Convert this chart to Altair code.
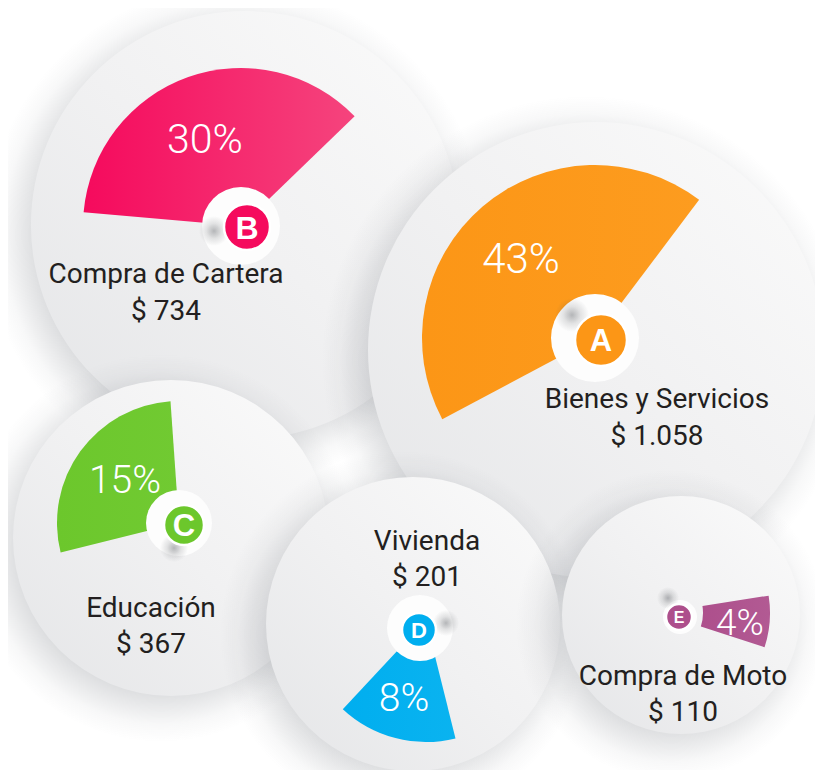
import math
import altair as alt
import pandas as pd

# ---------------- data ----------------
keys = ["A", "B", "C", "D", "E"]
categories = ["Bienes y Servicios", "Compra de Cartera", "Educación", "Vivienda", "Compra de Moto"]
amounts = ["$ 1.058", "$ 734", "$ 367", "$ 201", "$ 110"]
percents = [43, 30, 15, 8, 4]

# ---------------- styles ----------------
colors = ["#fc9616", "#f50a5d", "#6cc72c", "#00aeef", "#ad4f8c"]
colors_hi = ["#fd9c1f", "#f5447d", "#71ca32", "#0ab3f0", "#b25a93"]
LABEL_FONT = "Roboto"
BOLD = "Liberation Sans, Arial, DejaVu Sans, sans-serif"
TEXT_COLOR = "#231f20"

# ---------------- layout (page pixels) ----------------
bubble_order = ["B", "A", "C", "D", "E"]
bubble = {"B": (245, 225, 214), "A": (596, 350, 228), "C": (171, 538, 158),
          "D": (413, 624, 147), "E": (681, 615, 119)}
# apex x, apex y, outer radius, inner radius, start deg, end deg (clockwise from 12 o'clock)
wedge = {"A": (595, 338, 173, 0, 242, 397),
         "B": (241, 226, 158, 0, 275, 406),
         "C": (179, 523, 122, 0, 256, 356),
         "D": (426, 620, 122, 0, 166, 223),
         "E": (659, 613, 111, 44, 81, 108)}
hub = {"A": (595, 338, 44), "B": (241, 226, 39), "C": (179, 523, 33),
       "D": (420, 628, 33), "E": (680, 617, 17)}
badge = {"A": (601, 340, 26, 31), "B": (247, 227, 23, 32), "C": (184, 525, 20, 31),
         "D": (419, 630, 17, 22), "E": (679, 617, 13, 16)}
badge_shadow = {"A": (572, 315, 17), "B": (214, 231, 15), "C": (174, 548, 14),
                "D": (446, 623, 13), "E": (668, 598, 11)}
pct_pos = {"A": (521, 273, 42), "B": (205, 153, 41), "C": (125, 493, 39),
           "D": (404, 711, 39), "E": (740, 635, 37)}
label_pos = {"A": (657, 408, 445), "B": (166, 283, 320), "C": (151, 617, 653),
             "D": (427, 550, 586), "E": (683, 685, 721)}
LABEL_SIZE = 28

X = alt.Scale(domain=[8, 815], zero=False, nice=False)
Y = alt.Scale(domain=[8, 770], zero=False, nice=False, reverse=True)
FULL = 6.2832


def pos(yf="y"):
    return dict(x=alt.X("x:Q", scale=X, axis=None), y=alt.Y(f"{yf}:Q", scale=Y, axis=None))


def rad():
    return alt.Radius("r:Q", scale=None, stack=False)


def full_theta():
    return dict(theta=alt.Theta("t0:Q", scale=None, stack=False), theta2=alt.Theta2("t1"))


bubble_grad = alt.LinearGradient(
    gradient="linear",
    stops=[alt.GradientStop(color="#e4e5e7", offset=0),
           alt.GradientStop(color="#f1f1f2", offset=0.5),
           alt.GradientStop(color="#fbfbfb", offset=1)],
    x1=0, y1=1, x2=1, y2=0)

layers = []

# bubbles with soft shadows, interleaved in z-order
for k in bubble_order:
    cx, cy, r = bubble[k]
    R = r + 36
    sh = pd.DataFrame({"x": [cx - 10], "y": [cy + 10], "r": [R], "t0": [0.0], "t1": [FULL]})
    g = alt.RadialGradient(
        gradient="radial",
        stops=[alt.GradientStop(color="rgba(70,76,86,0.24)", offset=0),
               alt.GradientStop(color="rgba(70,76,86,0.24)", offset=(r - 26) / R),
               alt.GradientStop(color="rgba(70,76,86,0.12)", offset=r / R),
               alt.GradientStop(color="rgba(70,76,86,0.04)", offset=(r + 18) / R),
               alt.GradientStop(color="rgba(70,76,86,0)", offset=1)],
        x1=0.5, y1=0.5, r1=0, x2=0.5, y2=0.5, r2=0.5)
    layers.append(alt.Chart(sh).mark_arc(fill=g).encode(**pos(), radius=rad(), **full_theta()))
    bd = pd.DataFrame({"x": [cx], "y": [cy], "r": [r], "t0": [0.0], "t1": [FULL]})
    layers.append(alt.Chart(bd).mark_arc(fill=bubble_grad)
                  .encode(**pos(), radius=rad(), **full_theta()))

# wedges
for i, k in enumerate(keys):
    ax, ay, ro, ri, a0, a1 = wedge[k]
    wd = pd.DataFrame({"x": [ax], "y": [ay], "r": [ro], "r0": [ri],
                       "t0": [math.radians(a0)], "t1": [math.radians(a1)],
                       "key": [k], "pct": [percents[i]]})
    grad = alt.LinearGradient(
        gradient="linear",
        stops=[alt.GradientStop(color=colors[i], offset=0),
               alt.GradientStop(color=colors_hi[i], offset=1)],
        x1=0, y1=0.5, x2=1, y2=0.5)
    layers.append(alt.Chart(wd).mark_arc(fill=grad).encode(
        **pos(), **full_theta(), radius=rad(), radius2=alt.Radius2("r0")))

# white hubs
hub_df = pd.DataFrame({"key": keys,
                       "x": [hub[k][0] for k in keys],
                       "y": [hub[k][1] for k in keys],
                       "r": [hub[k][2] for k in keys]})
hub_df["t0"] = 0.0
hub_df["t1"] = FULL
layers.append(alt.Chart(hub_df).mark_arc(fill="#fdfdfd")
              .encode(**pos(), radius=rad(), **full_theta()))

# badge shadows
bs_df = pd.DataFrame({"key": keys,
                      "x": [badge_shadow[k][0] for k in keys],
                      "y": [badge_shadow[k][1] for k in keys],
                      "r": [badge_shadow[k][2] for k in keys]})
bs_df["t0"] = 0.0
bs_df["t1"] = FULL
bs_grad = alt.RadialGradient(
    gradient="radial",
    stops=[alt.GradientStop(color="rgba(60,64,70,0.38)", offset=0),
           alt.GradientStop(color="rgba(60,64,70,0.14)", offset=0.5),
           alt.GradientStop(color="rgba(60,64,70,0)", offset=1)],
    x1=0.5, y1=0.5, r1=0, x2=0.5, y2=0.5, r2=0.5)
layers.append(alt.Chart(bs_df).mark_arc(fill=bs_grad)
              .encode(**pos(), radius=rad(), **full_theta()))

# badges
bd_df = pd.DataFrame({"key": keys,
                      "x": [badge[k][0] for k in keys],
                      "y": [badge[k][1] for k in keys],
                      "r": [badge[k][2] for k in keys],
                      "fs": [badge[k][3] for k in keys]})
bd_df["t0"] = 0.0
bd_df["t1"] = FULL
bd_df["yb"] = bd_df["y"] + bd_df["fs"] * 0.36
color_scale = alt.Scale(domain=keys, range=colors)
layers.append(alt.Chart(bd_df).mark_arc(stroke="white", strokeWidth=2.5)
              .encode(**pos(), radius=rad(), **full_theta(),
                      color=alt.Color("key:N", scale=color_scale, legend=None)))
layers.append(alt.Chart(bd_df).mark_text(font=BOLD, fontWeight="bold", color="white",
                                         align="center", baseline="alphabetic")
              .encode(**pos("yb"), text="key:N", size=alt.Size("fs:Q", scale=None)))

# percentage labels
pct_df = pd.DataFrame({"key": keys,
                       "label": [f"{p}%" for p in percents],
                       "x": [pct_pos[k][0] for k in keys],
                       "y": [pct_pos[k][1] for k in keys],
                       "fs": [pct_pos[k][2] for k in keys]})
layers.append(alt.Chart(pct_df).mark_text(font=LABEL_FONT, fontWeight=300, color="white",
                                          align="center", baseline="alphabetic")
              .encode(**pos(), text="label:N", size=alt.Size("fs:Q", scale=None)))

# category names and amounts
lab_rows = []
for i, k in enumerate(keys):
    lx, y1, y2 = label_pos[k]
    lab_rows.append({"x": lx, "y": y1, "text": categories[i]})
    lab_rows.append({"x": lx, "y": y2, "text": amounts[i]})
lab_df = pd.DataFrame(lab_rows)
layers.append(alt.Chart(lab_df).mark_text(font=LABEL_FONT, color=TEXT_COLOR, fontSize=LABEL_SIZE,
                                          align="center", baseline="alphabetic")
              .encode(**pos(), text="text:N"))

chart = alt.layer(*layers).properties(
    width=807, height=762, padding=0, autosize="none", background="white"
).configure_view(strokeWidth=0)

chart.save("out.html", embed_options={"renderer": "svg", "actions": False})
